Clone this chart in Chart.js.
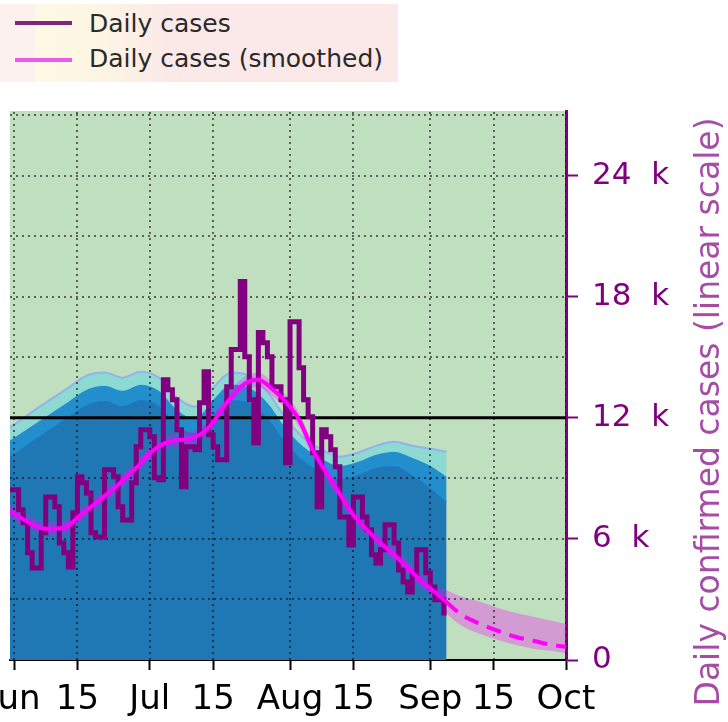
<!DOCTYPE html>
<html>
<head>
<meta charset="utf-8">
<script src="https://cdn.jsdelivr.net/npm/chart.js@4.4.0/dist/chart.umd.min.js"></script>
<style>
  html, body { margin: 0; padding: 0; background: #fff; overflow: hidden; }
  #wrap { position: relative; width: 728px; height: 722px; overflow: hidden; }
  #chart { position: absolute; left: -40px; top: 0; }
  #legend {
    position: absolute; left: 0; top: 4px; width: 398px; height: 78px;
    background: linear-gradient(to right, #fdf1ef 0px, #fdf1ef 34px, #fef9e5 36px, #fdf5e3 100px, #fbe9e8 170px, #fbe8e8 100%);
    font-family: "DejaVu Sans", sans-serif; font-size: 25px; color: #2a2a2a;
  }
  .swatch { position: absolute; left: 15px; width: 57px; height: 4px; }
  .label { position: absolute; left: 89px; line-height: 25px; white-space: nowrap; }
</style>
</head>
<body>
<div id="wrap">
  <canvas id="chart" width="768" height="722"></canvas>
  <div id="legend">
    <div class="swatch" style="top:17px;background:#7d287d"></div>
    <div class="label" style="top:7px">Daily cases</div>
    <div class="swatch" style="top:54px;background:#ec5aec"></div>
    <div class="label" style="top:42px">Daily cases (smoothed)</div>
  </div>
</div>
<script>
// x axis: days counted from 1 June (day 0)
const tickDays = [0, 14, 30, 44, 61, 75, 92, 106, 122];
const tickNames = ["Jun", "15", "Jul", "15", "Aug", "15", "Sep", "15", "Oct"];
const yTicks = [0, 3000, 6000, 9000, 12000, 15000, 18000, 21000, 24000, 27000];
const threshold = 12000;

// daily confirmed cases, one value per day starting at day -1
const firstCaseDay = -1;
const dailyCases = [
  8430, 8430, 7440, 6800, 5310, 4560, 4560, 6300, 8080, 8080,
  7590, 5800, 5310, 4610, 7290, 9080, 8780, 8280, 6300, 6100,
  6100, 9420, 9420, 9080, 7590, 6940, 6940, 8780, 10560, 11410,
  11410, 11060, 9030, 8930, 13890, 13390, 12900, 11410, 8580, 10560,
  10560, 10420, 12750, 14280, 11160, 10560, 9920, 9920, 13540, 15380,
  15380, 18750, 15030, 12900, 10760, 16220, 15720, 15030, 13540, 13540,
  12900, 9770, 16760, 16760, 14480, 12900, 12050, 10270, 7590, 11410,
  11060, 10420, 9570, 7090, 7090, 5700, 8080, 8080, 7090, 6450,
  5210, 4810, 5460, 6700, 6700, 5800, 4460, 3870, 3370, 4220,
  5460, 5460, 4320, 3620, 2980, 2980, 2330
];
const lastCaseDay = 95.6;

// smoothed curve and its forecast
const smoothDays = [-1, 3, 7, 11, 15, 19, 23, 27, 31, 35, 39, 43, 47, 51, 54, 57, 60, 63, 66, 69, 72, 75, 78, 81, 84, 87, 90, 93, 95.5];
const smoothVals = [7390, 6850, 6500, 6550, 7240, 7940, 8680, 9520, 10420, 10860, 10960, 11510, 12750, 13690, 13890, 13440, 12800, 11900, 10420, 9280, 8230, 7190, 6450, 5800, 5210, 4560, 3920, 3370, 2880];
const forecastDays = [95.5, 99, 103, 107, 111, 115, 119, 122];
const forecastVals = [2880, 2230, 1790, 1440, 1140, 940, 740, 650];

// uncertainty band of the smoothed curve
const bandDays = [-1, 3, 7, 11, 15, 19, 23, 27, 31, 35, 39, 43, 47, 51, 54, 57, 60, 63, 66, 69, 72, 75, 78, 81, 84, 87, 90, 93, 95.5, 99, 103, 107, 111, 115, 119, 122];
const bandHigh = [7740, 7200, 6850, 6900, 7590, 8290, 9030, 9870, 10770, 11210, 11310, 11860, 13100, 14040, 14240, 13790, 13150, 12250, 10770, 9630, 8580, 7540, 6800, 6150, 5560, 4910, 4270, 3720, 3470, 3130, 2880, 2580, 2330, 2130, 1930, 1790];
const bandLow = [7040, 6500, 6150, 6200, 6890, 7590, 8330, 9170, 10070, 10510, 10610, 11160, 12400, 13340, 13540, 13090, 12450, 11550, 10070, 8930, 7880, 6840, 6100, 5450, 4860, 4210, 3570, 3020, 2330, 1690, 1290, 990, 740, 550, 450, 350];

// blue capacity areas
const blueDays = [-1, 0, 4, 8, 12, 16, 20, 24, 28, 32, 36, 40, 44, 48, 52, 56, 60, 64, 68, 72, 76, 80, 84, 88, 92, 95.6];
const blueTop = [11510, 11660, 12300, 12900, 13490, 14090, 14240, 13990, 14280, 13990, 13000, 12550, 13490, 14240, 14090, 13290, 12000, 11010, 10420, 10070, 10270, 10610, 10810, 10610, 10470, 10320];
const blueMid = [10860, 11010, 11610, 12200, 12800, 13390, 13590, 13340, 13640, 13340, 12400, 11950, 12900, 13640, 13490, 12750, 11510, 10560, 9970, 9620, 9820, 10170, 10320, 10020, 9620, 9080];
const blueLow = [10070, 10220, 10860, 11460, 12050, 12650, 12850, 12600, 12900, 12600, 11660, 11260, 12150, 12900, 12750, 12000, 10810, 9870, 9320, 8980, 9180, 9520, 9620, 9180, 8530, 7840];

const toPts = (xs, ys) => xs.map((x, i) => ({ x: x, y: ys[i] }));

const casePts = dailyCases.map((v, i) => ({ x: firstCaseDay + i, y: v }));
casePts.push({ x: lastCaseDay, y: dailyCases[dailyCases.length - 1] });

const purple = "#800080";

// green background of the plot area
const bgPlugin = {
  id: "plotBg",
  beforeDraw(chart) {
    const { ctx, chartArea: a } = chart;
    ctx.save();
    ctx.fillStyle = "rgb(191,223,191)";
    ctx.fillRect(a.left, a.top, a.right - a.left, a.bottom - a.top);
    ctx.restore();
  },
};

// dotted grid, drawn above the filled areas but below the lines
const gridPlugin = {
  id: "dottedGrid",
  afterDatasetDraw(chart, args) {
    if (args.index !== 4) return;
    const { ctx, chartArea: a, scales } = chart;
    ctx.save();
    ctx.beginPath();
    ctx.rect(a.left, a.top, a.right - a.left, a.bottom - a.top);
    ctx.clip();
    ctx.strokeStyle = "rgba(0,0,0,0.55)";
    ctx.lineWidth = 2;
    ctx.setLineDash([2, 4]);
    tickDays.forEach((d) => {
      const px = Math.round(scales.x.getPixelForValue(d));
      ctx.beginPath();
      ctx.moveTo(px, a.bottom);
      ctx.lineTo(px, a.top);
      ctx.stroke();
    });
    yTicks.forEach((v) => {
      if (v === 0) return;
      const py = Math.round(scales.y.getPixelForValue(v));
      ctx.beginPath();
      ctx.moveTo(a.left, py);
      ctx.lineTo(a.right, py);
      ctx.stroke();
    });
    ctx.restore();
  },
};

// right axis title
const titlePlugin = {
  id: "axisTitle",
  afterDraw(chart) {
    const ctx = chart.ctx;
    ctx.save();
    ctx.translate(750, 412);
    ctx.rotate(-Math.PI / 2);
    ctx.font = '33px "DejaVu Sans"';
    ctx.fillStyle = "rgba(128,0,128,0.7)";
    ctx.textAlign = "center";
    ctx.textBaseline = "middle";
    ctx.fillText("Daily confirmed cases (linear scale)", 0, 0);
    ctx.restore();
  },
};

const ctx = document.getElementById("chart").getContext("2d");
new Chart(ctx, {
  type: "line",
  data: {
    datasets: [
      {
        label: "blue low",
        data: toPts(blueDays, blueLow),
        cubicInterpolationMode: "monotone",
        borderColor: "rgba(25,125,225,0.9)",
        borderWidth: 1.5,
        backgroundColor: "#1f77b4",
        fill: "origin",
        order: 10,
      },
      {
        label: "blue mid",
        data: toPts(blueDays, blueMid),
        cubicInterpolationMode: "monotone",
        borderColor: "rgba(40,150,215,0.9)",
        borderWidth: 1,
        backgroundColor: "rgb(34,142,203)",
        fill: 0,
        order: 9,
      },
      {
        label: "blue top",
        data: toPts(blueDays, blueTop),
        cubicInterpolationMode: "monotone",
        borderColor: "rgb(150,178,235)",
        borderWidth: 2,
        backgroundColor: "rgb(140,218,210)",
        fill: 1,
        order: 8,
      },
      {
        label: "band low",
        data: toPts(bandDays, bandLow),
        cubicInterpolationMode: "monotone",
        borderWidth: 0,
        borderColor: "rgba(0,0,0,0)",
        fill: false,
        order: 7,
      },
      {
        label: "band high",
        data: toPts(bandDays, bandHigh),
        cubicInterpolationMode: "monotone",
        borderWidth: 0,
        borderColor: "rgba(0,0,0,0)",
        backgroundColor: "rgba(255,0,255,0.3)",
        fill: 3,
        order: 6,
      },
      {
        label: "threshold",
        data: [{ x: -1, y: threshold }, { x: 122, y: threshold }],
        borderColor: "#000",
        borderWidth: 3,
        fill: false,
        order: 5,
      },
      {
        label: "Daily cases",
        data: casePts,
        stepped: true,
        borderColor: purple,
        borderWidth: 5,
        borderJoinStyle: "miter",
        fill: false,
        order: 4,
      },
      {
        label: "Daily cases (smoothed)",
        data: toPts(smoothDays, smoothVals),
        cubicInterpolationMode: "monotone",
        borderColor: "#ff00ff",
        borderWidth: 4,
        fill: false,
        order: 3,
      },
      {
        label: "forecast",
        data: toPts(forecastDays, forecastVals),
        cubicInterpolationMode: "monotone",
        borderColor: "#ff00ff",
        borderWidth: 4,
        borderDash: [15, 9],
        fill: false,
        order: 2,
      },
    ],
  },
  options: {
    responsive: false,
    animation: false,
    events: [],
    layout: { padding: { left: 50, top: 111, right: 0, bottom: 0 } },
    elements: { point: { radius: 0 } },
    datasets: { line: { clip: 0 } },
    plugins: { legend: { display: false }, tooltip: { enabled: false } },
    scales: {
      x: {
        type: "linear",
        min: -0.9,
        max: 122,
        z: 1,
        afterBuildTicks: (scale) => {
          scale.ticks = tickDays.map((d) => ({ value: d }));
        },
        afterFit: (scale) => {
          scale.height = 62;
        },
        ticks: {
          autoSkip: false,
          maxRotation: 0,
          color: "#000",
          padding: 10,
          font: { family: "DejaVu Sans", size: 34 },
          callback: (v) => {
            const i = tickDays.indexOf(v);
            return i >= 0 ? tickNames[i] : "";
          },
        },
        grid: { drawOnChartArea: false, tickLength: 10, tickWidth: 2, tickColor: "#000" },
        border: { color: "#000", width: 2 },
      },
      y: {
        position: "right",
        min: 0,
        max: 27200,
        z: 1,
        afterBuildTicks: (scale) => {
          scale.ticks = yTicks.map((v) => ({ value: v }));
        },
        afterFit: (scale) => {
          scale.width = 162;
        },
        ticks: {
          autoSkip: false,
          color: purple,
          padding: 14,
          font: { family: "DejaVu Sans", size: 31 },
          callback: (v) => {
            if (v % 6000 !== 0) return "";
            return v === 0 ? "0" : v / 1000 + "  k";
          },
        },
        grid: {
          drawOnChartArea: false,
          tickLength: 12,
          tickWidth: 2,
          tickColor: (c) => (c.tick && c.tick.value % 6000 === 0 ? purple : "rgba(0,0,0,0)"),
        },
        border: { color: purple, width: 3 },
      },
    },
  },
  plugins: [bgPlugin, gridPlugin, titlePlugin],
});
</script>
</body>
</html>
